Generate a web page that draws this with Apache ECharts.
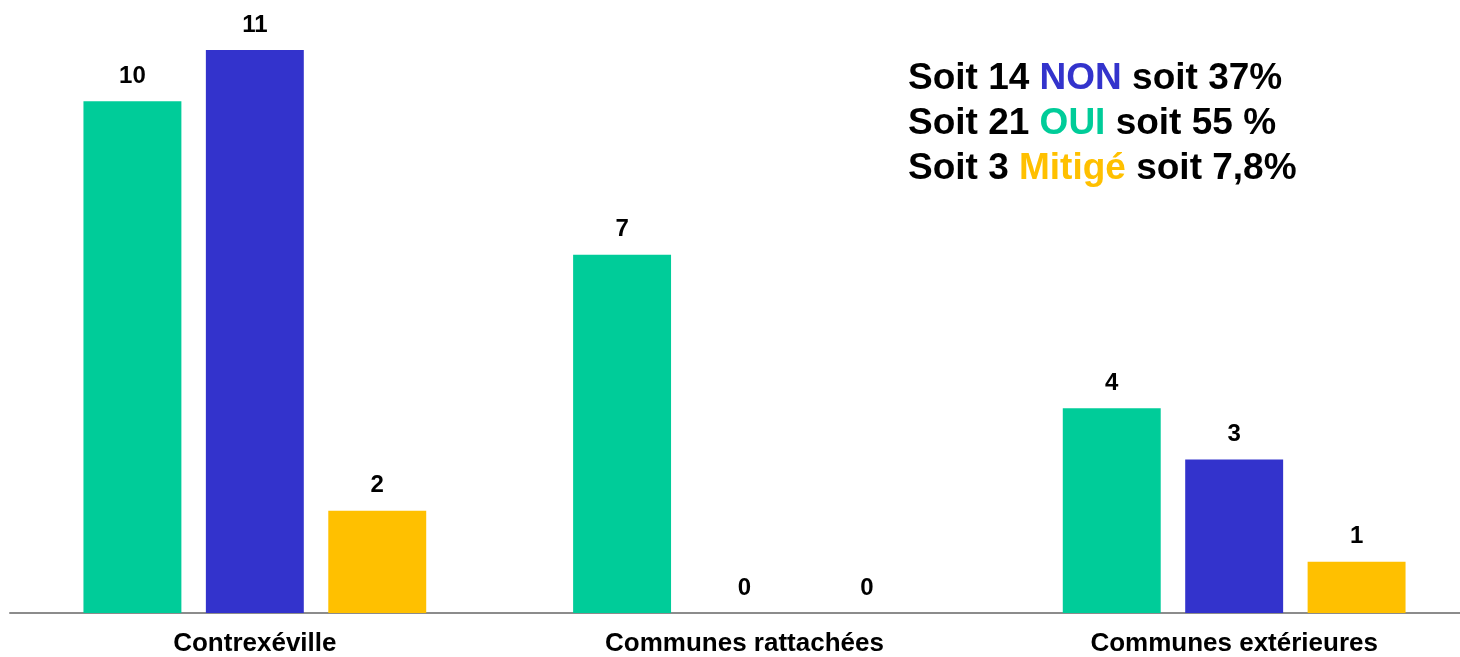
<!DOCTYPE html>
<html><head><meta charset="utf-8">
<script src="https://cdn.jsdelivr.net/npm/echarts@6/dist/echarts.min.js"></script>
<style>html,body{margin:0;padding:0;background:#fff}#c{width:1460px;height:657px}</style>
</head><body><div id="c"></div>
<script>
const categories = ['Contrexéville', 'Communes rattachées', 'Communes extérieures'];
const oui = [10, 7, 4];
const non = [11, 0, 3];
const mitige = [2, 0, 1];
const seriesNames = ['OUI', 'NON', 'Mitigé'];
const colors = ['#00CC99', '#3333CC', '#FFC000'];
const summary = [
  ['Soit 14 ', 'NON', ' soit 37%', 'non'],
  ['Soit 21 ', 'OUI', ' soit 55 %', 'oui'],
  ['Soit 3 ', 'Mitigé', ' soit 7,8%', 'mit']
];
const chart = echarts.init(document.getElementById('c'));
const font = '"Liberation Sans", Arial, sans-serif';
const lbl = {show: true, position: 'top', distance: 13, color: '#000', fontWeight: 'bold', fontSize: 24, fontFamily: font};
const mk = (name, data, color) => ({
  name, type: 'bar', data, itemStyle: {color}, label: lbl,
  barGap: '25%', barCategoryGap: '30%'
});
const text = summary.map(r => '{b|' + r[0] + '}{' + r[3] + '|' + r[1] + '}{b|' + r[2] + '}').join('\n');
const rs = {fontSize: 37, fontWeight: 'bold', fontFamily: font, lineHeight: 45};
chart.setOption({
  animation: false,
  grid: {left: 10, top: 50, right: -19, bottom: 44, containLabel: false, outerBoundsMode: 'none'},
  xAxis: {
    type: 'category', data: categories,
    axisLine: {lineStyle: {color: '#8c8c8c', width: 2}},
    axisTick: {show: false},
    axisLabel: {color: '#000', fontWeight: 'bold', fontSize: 26, fontFamily: font, margin: 18, interval: 0}
  },
  yAxis: {type: 'value', min: 0, max: 11, show: false, splitLine: {show: false}},
  series: [mk(seriesNames[0], oui, colors[0]), mk(seriesNames[1], non, colors[1]), mk(seriesNames[2], mitige, colors[2])],
  graphic: [{
    type: 'text', left: 908, top: 60,
    style: {
      text: text,
      fill: '#000',
      rich: {
        b: Object.assign({fill: '#000'}, rs),
        non: Object.assign({fill: colors[1]}, rs),
        oui: Object.assign({fill: colors[0]}, rs),
        mit: Object.assign({fill: colors[2]}, rs)
      }
    }
  }]
});
</script></body></html>
